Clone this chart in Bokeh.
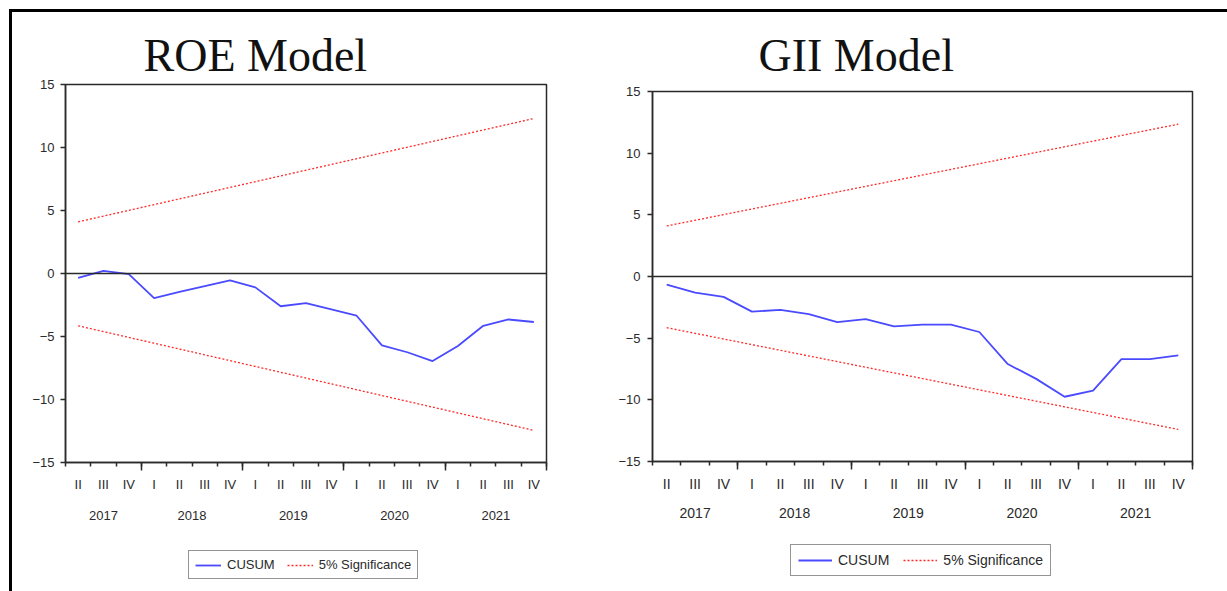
from bokeh.plotting import figure
from bokeh.layouts import row, column
from bokeh.models import (Range1d, FixedTicker, LinearAxis, Span, Legend, LegendItem,
                          ColumnDataSource, Label)
from bokeh.embed import file_html
from bokeh.resources import INLINE

# ---- data -------------------------------------------------------------
periods = ["2017Q2", "2017Q3", "2017Q4",
           "2018Q1", "2018Q2", "2018Q3", "2018Q4",
           "2019Q1", "2019Q2", "2019Q3", "2019Q4",
           "2020Q1", "2020Q2", "2020Q3", "2020Q4",
           "2021Q1", "2021Q2", "2021Q3", "2021Q4"]
quarter_labels = ["II", "III", "IV",
                  "I", "II", "III", "IV",
                  "I", "II", "III", "IV",
                  "I", "II", "III", "IV",
                  "I", "II", "III", "IV"]
years = ["2017", "2018", "2019", "2020", "2021"]

roe_cusum = [-0.35, 0.2, -0.05, -1.95, -1.45, -1.0, -0.55, -1.1, -2.6, -2.35,
             -2.85, -3.35, -5.7, -6.25, -6.95, -5.75, -4.15, -3.65, -3.85]
gii_cusum = [-0.65, -1.3, -1.65, -2.85, -2.7, -3.05, -3.7, -3.45, -4.05, -3.9,
             -3.9, -4.5, -7.1, -8.3, -9.75, -9.25, -6.7, -6.7, -6.4]

sig_periods = [periods[0], periods[-1]]
roe_sig_upper = [4.1, 12.3]
roe_sig_lower = [-4.15, -12.45]
gii_sig_upper = [4.1, 12.35]
gii_sig_lower = [-4.15, -12.4]

titles = ["ROE Model", "GII Model"]
series_names = ["CUSUM", "5% Significance"]

BLUE = "#4a4aff"
RED = "#ff2a2a"
INK = "#2a2a2a"

idx = {p: i for i, p in enumerate(periods)}
xs = [idx[p] for p in periods]
sx = [idx[p] for p in sig_periods]


def label_axis(ticks, overrides, standoff, font):
    ax = LinearAxis(ticker=FixedTicker(ticks=ticks, minor_ticks=[]),
                    major_label_overrides=overrides)
    ax.axis_line_color = None
    ax.major_tick_line_color = None
    ax.minor_tick_line_color = None
    ax.major_tick_out = 0
    ax.major_tick_in = 0
    ax.major_label_standoff = standoff
    ax.major_label_text_font = "Liberation Sans"
    ax.major_label_text_font_size = font
    ax.major_label_text_color = INK
    return ax


def make_title(text, width, height, frame_w, x, baseline):
    # the strip's plotting area lines up with the chart's frame below it
    q = figure(width=width, height=height, output_backend="svg", toolbar_location=None,
               min_border=0, x_range=Range1d(0, frame_w), y_range=Range1d(0, height),
               x_axis_location=None, y_axis_location=None, title=None)
    q.grid.visible = False
    q.outline_line_color = None
    q.background_fill_color = "white"
    q.border_fill_color = "white"
    q.add_layout(Label(x=x, y=baseline, text=text, text_align="left",
                       text_baseline="alphabetic", text_font="Liberation Serif",
                       text_font_size="46px", text_color="#111111"))
    return q


def make_chart(cusum, sig_up, sig_lo, width, height, border,
               ylab_standoff, q_standoff, y_standoff, x_font):
    p = figure(width=width, height=height,
               x_range=Range1d(-0.5, len(periods) - 0.5), y_range=Range1d(-15, 15),
               output_backend="svg", toolbar_location=None, title=None,
               min_border_left=border[0], min_border_right=border[1],
               min_border_top=border[2], min_border_bottom=border[3])
    p.grid.visible = False
    p.background_fill_color = "white"
    p.border_fill_color = "white"
    p.outline_line_color = INK
    p.outline_line_width = 1.5

    # y axis
    ya = p.yaxis[0]
    ya.ticker = FixedTicker(ticks=[-15, -10, -5, 0, 5, 10, 15], minor_ticks=[])
    ya.major_tick_out = 5
    ya.major_tick_in = 0
    ya.major_label_standoff = ylab_standoff
    ya.major_label_text_font = "Liberation Sans"
    ya.major_label_text_font_size = "13px"
    ya.major_label_text_color = INK
    ya.axis_line_color = INK
    ya.axis_line_width = 1.5
    ya.major_tick_line_color = INK
    ya.major_tick_line_width = 1.5

    # x axis: tick marks at quarter boundaries, longer at year boundaries
    n = len(periods)
    quarter_bounds = [i - 0.5 for i in range(n + 1)]
    year_bounds = [i + 0.5 for i in range(n) if i == n - 1 or periods[i][:4] != periods[i + 1][:4]]
    xa = p.xaxis[0]
    xa.ticker = FixedTicker(ticks=year_bounds, minor_ticks=quarter_bounds)
    xa.major_label_overrides = {v: "" for v in year_bounds}
    xa.major_label_text_font_size = "1px"
    xa.major_label_standoff = 0
    xa.major_tick_out = 8
    xa.major_tick_in = 0
    xa.minor_tick_out = 4
    xa.minor_tick_in = 0
    xa.axis_line_color = INK
    xa.axis_line_width = 1.5
    xa.major_tick_line_color = INK
    xa.minor_tick_line_color = INK
    xa.major_tick_line_width = 1.5
    xa.minor_tick_line_width = 1.5

    # quarter labels
    p.add_layout(label_axis(xs, {i: lab for i, lab in zip(xs, quarter_labels)},
                            q_standoff, x_font), "below")

    # year labels centred on each year's quarters
    ypos = []
    for yr in years:
        members = [i for i, per in enumerate(periods) if per.startswith(yr)]
        ypos.append(sum(members) / len(members))
    p.add_layout(label_axis(ypos, {v: yr for v, yr in zip(ypos, years)},
                            y_standoff, x_font), "below")

    p.add_layout(Span(location=0, dimension="width", line_color=INK, line_width=1.5))

    src = ColumnDataSource(dict(x=xs, y=cusum))
    p.line("x", "y", source=src, line_color=BLUE, line_width=1.8)
    p.line(sx, sig_up, line_color=RED, line_width=1.3, line_dash="2 2")
    p.line(sx, sig_lo, line_color=RED, line_width=1.3, line_dash="2 2")
    return p


def make_legend(cusum, sig_up, width, height, loc, font, glyph_w, spacing, padding):
    # key strip: same series, drawn outside this strip's visible window,
    # only their legend entries show
    q = figure(width=width, height=height, output_backend="svg", toolbar_location=None,
               min_border=0, x_range=Range1d(1000, 1001), y_range=Range1d(1000, 1001))
    q.axis.visible = False
    q.grid.visible = False
    q.outline_line_color = None
    q.background_fill_color = "white"
    q.border_fill_color = "white"
    r_c = q.line(xs, cusum, line_color=BLUE, line_width=1.8)
    r_s = q.line(sx, sig_up, line_color=RED, line_width=1.3, line_dash="2 2")
    leg = Legend(items=[LegendItem(label=series_names[0], renderers=[r_c]),
                        LegendItem(label=series_names[1], renderers=[r_s])],
                 location=loc, orientation="horizontal")
    leg.label_text_font = "Liberation Sans"
    leg.label_text_font_size = font
    leg.label_text_color = INK
    leg.glyph_width = glyph_w
    leg.glyph_height = 12
    leg.label_height = 12
    leg.label_standoff = 6
    leg.spacing = spacing
    leg.padding = padding
    leg.margin = 0
    leg.border_line_color = INK
    leg.border_line_width = 1.5
    leg.background_fill_color = "white"
    leg.background_fill_alpha = 1.0
    q.add_layout(leg)
    return q


W1, W2 = 588, 627
TITLE_H, MAIN_H, LEG_H = 61, 467, 51
B1 = (53, 54, 11, 78)
B2 = (52, 35, 18, 79)

t1 = make_title(titles[0], W1, TITLE_H, W1 - B1[0] - B1[1], 78, 18)
t2 = make_title(titles[1], W2, TITLE_H, W2 - B2[0] - B2[1], 106, 18)

p1 = make_chart(roe_cusum, roe_sig_upper, roe_sig_lower, W1, MAIN_H,
                border=B1, ylab_standoff=6,
                q_standoff=6, y_standoff=16, x_font="13px")
p2 = make_chart(gii_cusum, gii_sig_upper, gii_sig_lower, W2, MAIN_H,
                border=B2, ylab_standoff=7,
                q_standoff=6, y_standoff=13, x_font="14px")

l1 = make_legend(roe_cusum, roe_sig_upper, W1, LEG_H, (123, 12), "13px", 26, 12, 6)
l2 = make_legend(gii_cusum, gii_sig_upper, W2, LEG_H, (138, 15), "14px", 34, 14, 7)

layout = row(column(t1, p1, l1), column(t2, p2, l2), margin=(9, 0, 0, 9),
             styles={"border-top": "3px solid #000", "border-left": "3px solid #000"})
open("out.html", "w").write(file_html(layout, INLINE))
